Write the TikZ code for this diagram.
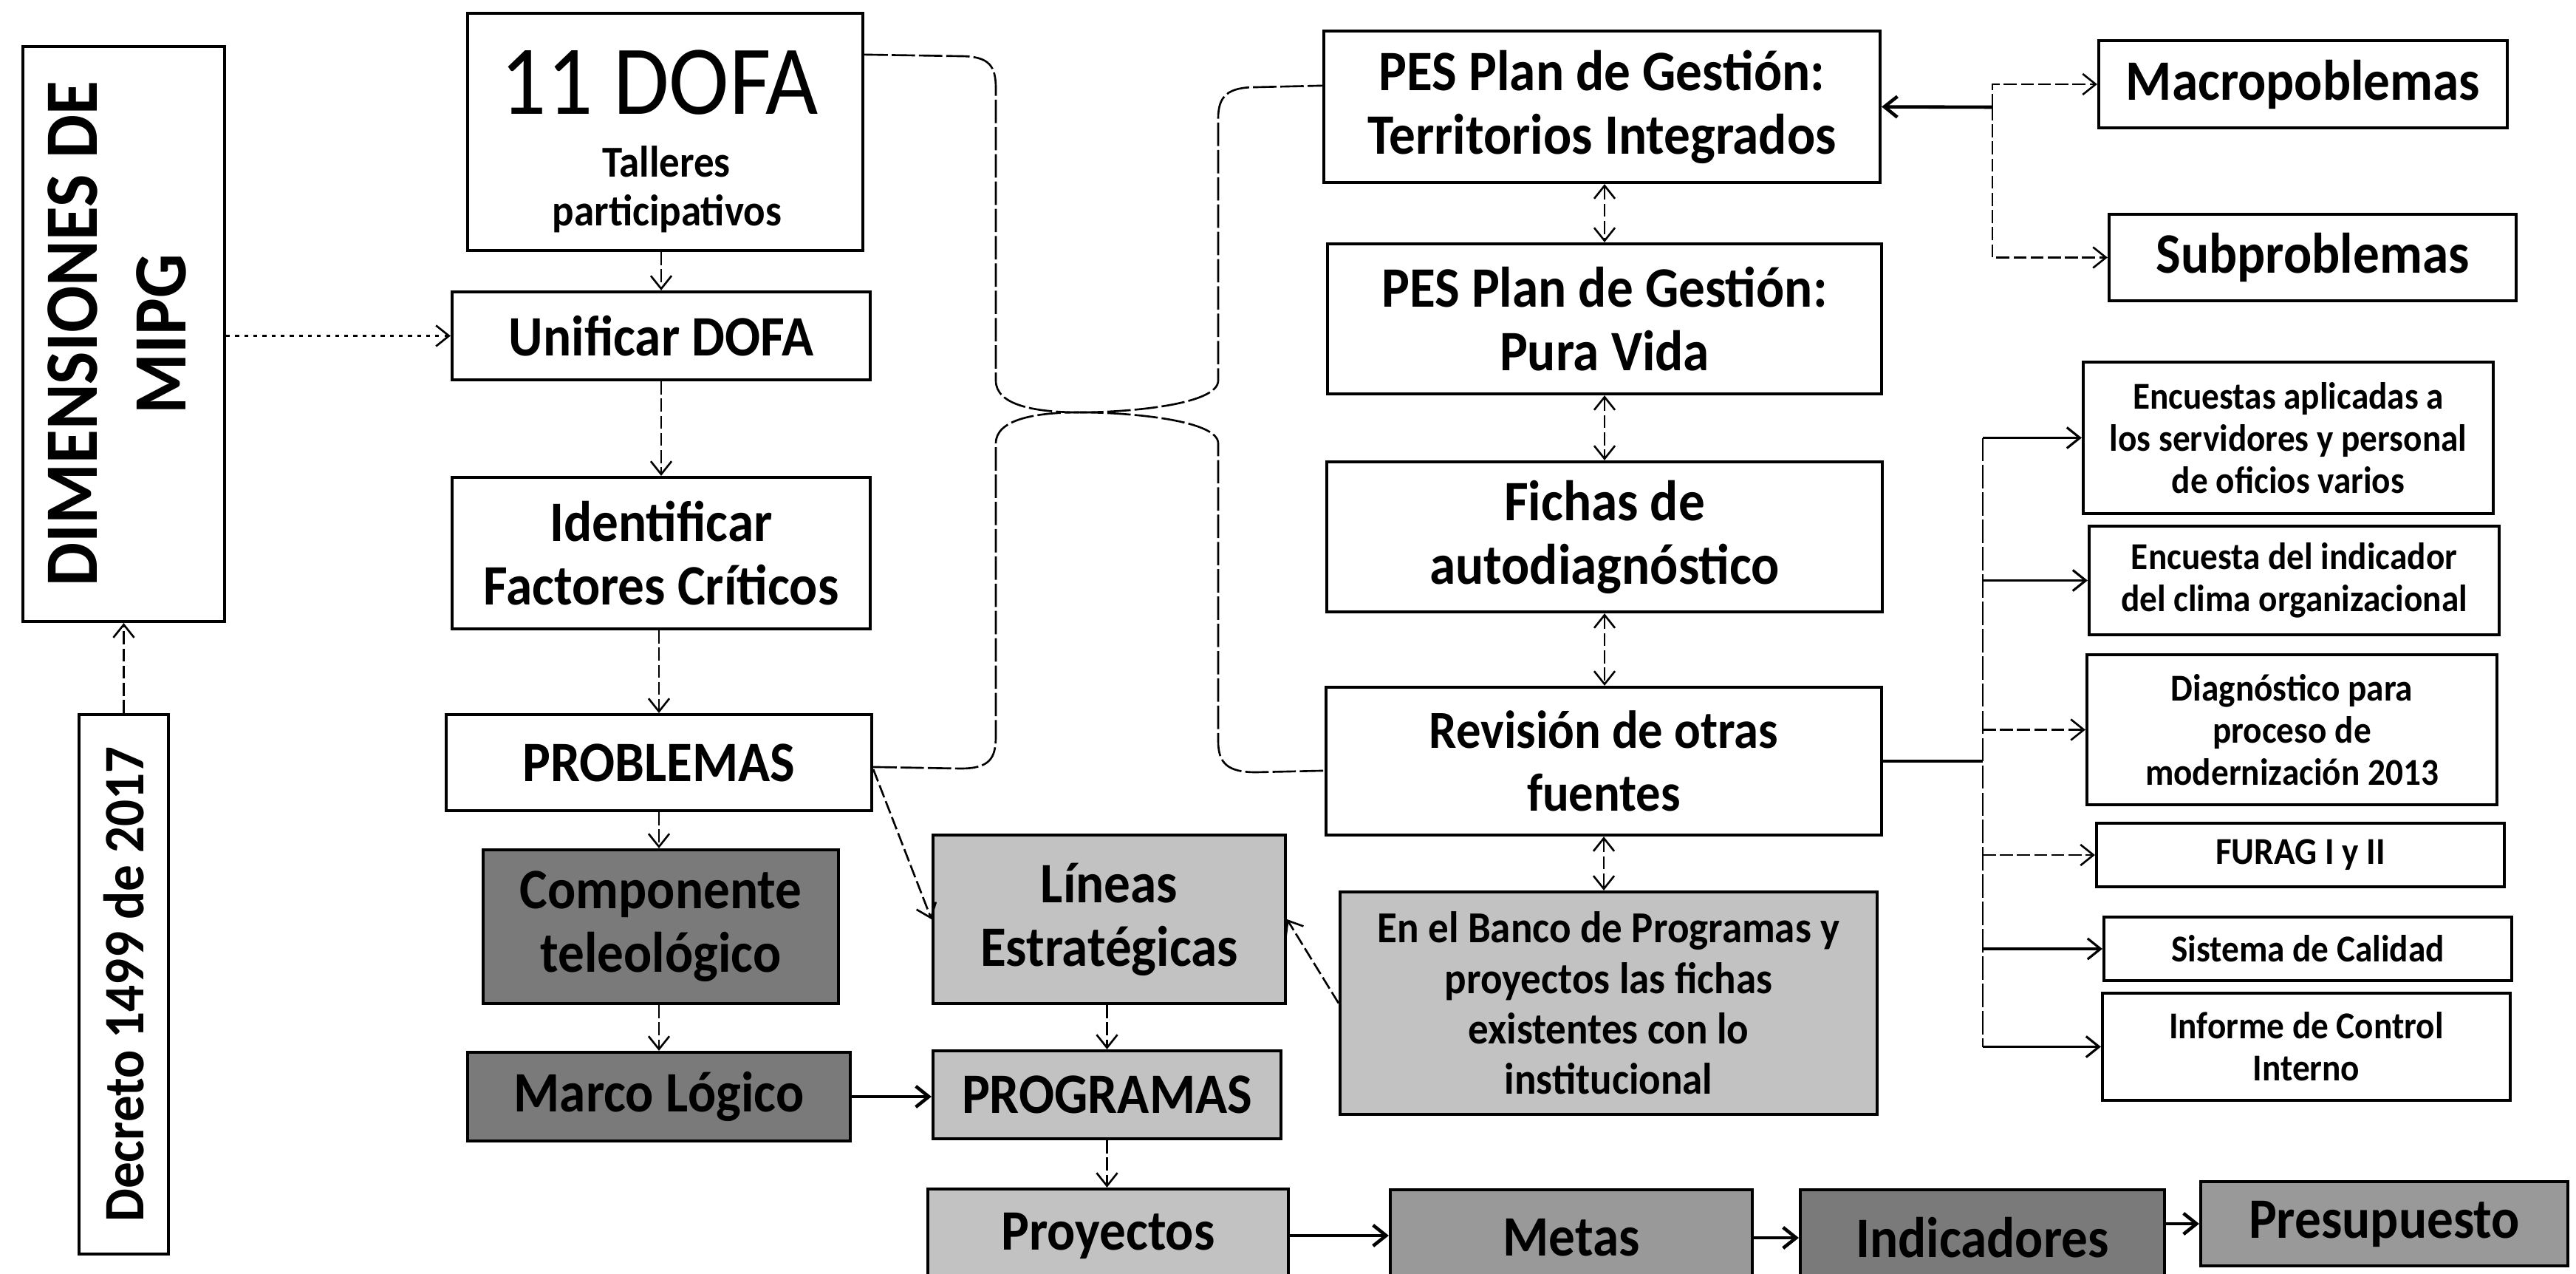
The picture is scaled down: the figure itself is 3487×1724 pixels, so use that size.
\documentclass[tikz,border=0pt]{standalone}
\usepackage{fontspec}
\setmainfont{Carlito}[FakeStretch=0.92]
\usetikzlibrary{arrows.meta,calc}
\begin{document}
\begin{tikzpicture}[x=0.01cm,y=-0.01cm,
  wh/.style 2 args={minimum width=#1*0.01cm, minimum height=#2*0.01cm},
  box/.style={draw, line width=1.2pt, inner sep=0pt, align=center, font=\bfseries\fontsize{22}{24.5}\selectfont},
  sbox/.style={box, font=\bfseries\fontsize{14.6}{16.2}\selectfont},
  rbox/.style={box, font=\bfseries\fontsize{20.6}{24}\selectfont},
  dk/.style={fill=black!52},
  md/.style={fill=black!40},
  lt/.style={fill=black!24},
  txt/.style={inner sep=0pt, anchor=base},
  tip/.tip={Straight Barb[length=5pt,width=8pt]},
  conn/.style={line width=0.75pt, dash pattern=on 5pt off 1.6pt, -tip},
  dotconn/.style={line width=0.75pt, dash pattern=on 1.5pt off 2pt, -tip},
  dconn/.style={conn, tip-tip},
  sconn/.style={line width=1.3pt, -tip},
  tconn/.style={line width=0.9pt, -tip},
  brace/.style={line width=0.75pt, dash pattern=on 9pt off 1.5pt},
]
\useasboundingbox (0,0) rectangle (3487,1724);
\clip (0,0) rectangle (3487,1724);

% left column
\node[box, wh={273}{778}, font=\bfseries\fontsize{29}{34}\selectfont] (dim) at (167.5,452)
  {\rotatebox{90}{\begin{tabular}{@{}c@{}}DIMENSIONES DE\\MIPG\end{tabular}}};
\node[box, wh={121}{730}] (dec) at (167.5,1332) {\rotatebox{90}{Decreto 1499 de 2017}};

\node[box, wh={535}{321}] (dofa) at (900.5,178.5) {};
\node[txt, font=\fontsize{38}{40}\selectfont] (dofat) at (893,154) {11 DOFA};
\node[txt, font=\bfseries\fontsize{17}{19}\selectfont] (dofas1) at (902,239) {Talleres};
\node[txt, font=\bfseries\fontsize{17}{19}\selectfont] (dofas2) at (903,305) {participativos};

\node[box, wh={566}{119}] (unif) at (895,454.5) {Unificar DOFA};
\node[box, wh={566}{205}] (ident) at (895,748.5) {Identificar\\Factores Críticos};
\node[box, wh={576}{130}] (prob) at (892,1032) {PROBLEMAS};
\node[box, dk, wh={481}{208}] (comp) at (894.5,1254) {Componente\\teleológico};
\node[box, dk, wh={518}{120}] (marco) at (892,1484) {Marco Lógico};

% middle column
\node[box, lt, wh={477}{228}] (lineas) at (1501.5,1244) {Líneas\\Estratégicas};
\node[box, lt, wh={471}{119}] (progr) at (1498.5,1481.5) {PROGRAMAS};
\node[box, lt, wh={488}{126}] (proy) at (1500,1672) {Proyectos};
\node[box, md, wh={490}{130}] (metas) at (2127,1675) {Metas};
\node[box, dk, wh={493}{130}] (indic) at (2683.5,1675) {Indicadores};
\node[box, md, wh={497}{114}] (presu) at (3227.5,1656) {Presupuesto};

\node[box, wh={753}{205}] (pes1) at (2168.5,144.5) {PES Plan de Gestión:\\Territorios Integrados};
\node[box, wh={750}{203}] (pes2) at (2172,431.5) {PES Plan de Gestión:\\Pura Vida};
\node[box, wh={752}{203}] (fichas) at (2172,726.5) {Fichas de\\autodiagnóstico};
\node[rbox, wh={752}{200}] (revis) at (2171,1030) {Revisión de otras\\fuentes};
\node[box, lt, wh={727}{301}, font=\bfseries\fontsize{17}{19.4}\selectfont] (banco) at (2177.5,1357.5)
  {En el Banco de Programas y\\proyectos las fichas\\existentes con lo\\institucional};

% right column
\node[box, wh={553}{118}] (macro) at (3117.5,114) {Macropoblemas};
\node[box, wh={551}{117}] (subp) at (3130.5,348.5) {Subproblemas};
\node[sbox, wh={555}{205}] (enc1) at (3097.5,592.5) {Encuestas aplicadas a\\los servidores y personal\\de oficios varios};
\node[sbox, wh={555}{147}] (enc2) at (3105.5,785.5) {Encuesta del indicador\\del clima organizacional};
\node[sbox, wh={555}{203}] (diag) at (3102.5,987.5) {Diagnóstico para\\proceso de\\modernización 2013};
\node[sbox, wh={552}{86}] (furag) at (3114,1157) {FURAG I y II};
\node[sbox, wh={552}{86}] (sist) at (3124,1284) {Sistema de Calidad};
\node[sbox, wh={552}{145}] (inf) at (3122,1416.5) {Informe de Control\\Interno};

% connectors, left column
\draw[conn] (dec.north) -- (dim.south);
\draw[dotconn] (dim.east |- unif.west) -- (unif.west);
\draw[conn] (unif.north |- dofa.south) -- (unif.north);
\draw[conn] (unif.south) -- (ident.north);
\draw[conn] (prob.north |- ident.south) -- (prob.north);
\draw[conn] (prob.south) -- (prob.south |- comp.north);
\draw[conn] (marco.north |- comp.south) -- (marco.north);
\draw[sconn] (marco.east) -- (marco.east -| progr.west);
\draw[conn] ($(prob.north east)+(0,76)$) -- (lineas.west);
\draw[conn] (banco.west) -- (lineas.east);
\draw[conn] (progr.north |- lineas.south) -- (progr.north);
\draw[conn] (progr.south) -- (progr.south |- proy.north);
\draw[sconn] (proy.east) -- (proy.east -| metas.west);
\draw[sconn] (metas.east) -- (indic.west);
\draw[sconn] (presu.west -| indic.east) -- (presu.west);

% vertical double arrows
\draw[dconn] (pes2.north |- pes1.south) -- (pes2.north);
\draw[dconn] (pes2.south) -- (fichas.north);
\draw[dconn] (fichas.south) -- (fichas.south |- revis.north);
\draw[dconn] (revis.south) -- (revis.south |- banco.north);

% braces
\coordinate (tipA) at (1462,558);
\draw[brace] ($(dofa.north east)+(0,58)$) -- (1300,76) .. controls (1340,76) and (1348,90) .. (1348,120)
  -- (1348,515) .. controls (1348,548) and (1400,558) .. (tipA);
\draw[brace] ($(prob.north east)+(0,73)$) -- (1300,1040) .. controls (1340,1040) and (1348,1026) .. (1348,996)
  -- (1348,600) .. controls (1348,568) and (1400,558) .. (tipA);
\draw[brace] (tipA) .. controls (1525,558) and (1649,548) .. (1649,515) -- (1649,160)
  .. controls (1649,130) and (1662,118) .. (1700,118) -- ($(pes1.north west)+(0,76)$);
\draw[brace] (tipA) .. controls (1525,558) and (1649,568) .. (1649,600) -- (1649,1003)
  .. controls (1649,1033) and (1662,1045) .. (1700,1045) -- ($(revis.north west)+(0,115)$);

% top right junction
\coordinate (j1) at (2697,145);
\draw[sconn] (j1) -- (pes1.east);
\draw[conn] (j1) |- (macro.west);
\draw[conn] (j1) |- (subp.west);

% bus from Revision
\coordinate (j2) at (2684,1030);
\draw[line width=1.1pt] (revis.east) -- (j2);
\draw[brace] (j2 |- enc1.west) -- (j2 |- inf.west);
\draw[tconn] (j2 |- enc1.west) -- (enc1.west);
\draw[tconn] (j2 |- enc2.west) -- (enc2.west);
\draw[conn] (j2 |- diag.west) -- (diag.west);
\draw[conn] (j2 |- furag.west) -- (furag.west);
\draw[tconn] (j2 |- sist.west) -- (sist.west);
\draw[tconn] (j2 |- inf.west) -- (inf.west);
\end{tikzpicture}
\end{document}
